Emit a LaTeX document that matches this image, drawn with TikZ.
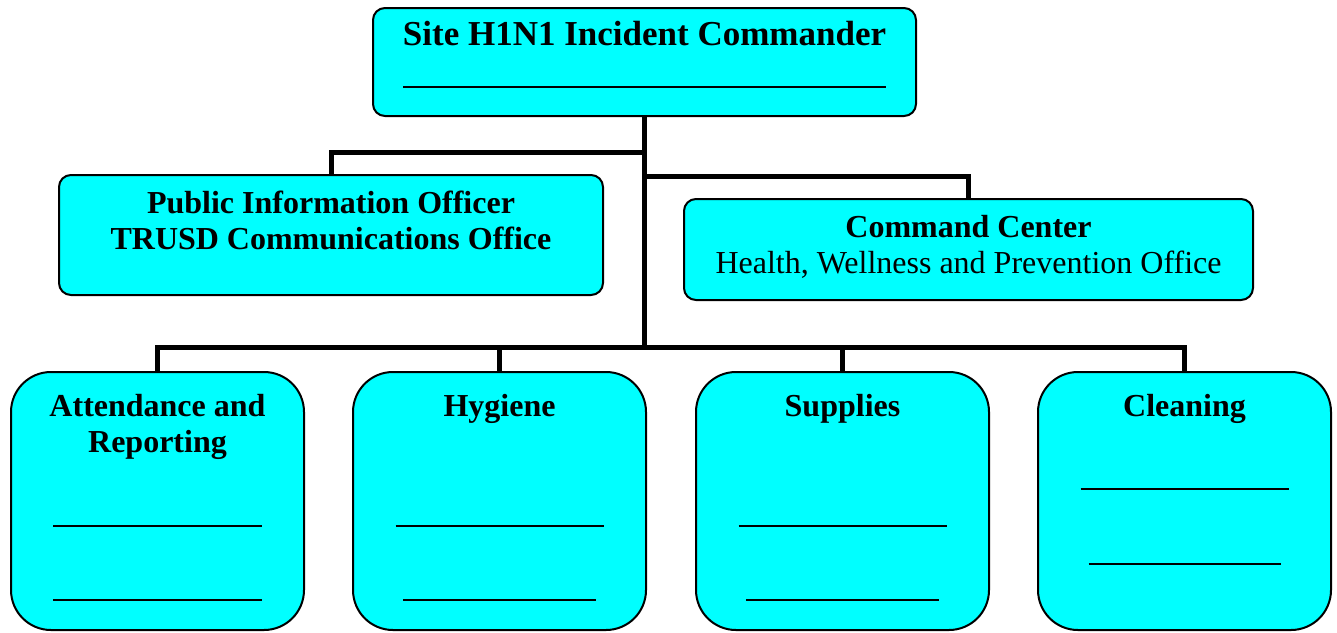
\documentclass[tikz,border=0pt]{standalone}
\usepackage{fontspec}
\setmainfont{Liberation Serif}
\usetikzlibrary{positioning,calc}

\definecolor{boxcyan}{HTML}{00FFFF}

\tikzset{
  box/.style  = {draw, line width=1pt, fill=boxcyan, rounded corners=6pt,
                 inner sep=0pt},
  cell/.style = {box, rounded corners=20pt, minimum width=146.5pt,
                 minimum height=129pt},
  wire/.style = {line width=2.5pt},
  head/.style = {font=\bfseries\fontsize{16}{18}\selectfont, align=center,
                 inner sep=0pt, anchor=north},
  blank/.style= {draw=none, inner sep=0pt}
}
\newcommand{\fillin}[1]{\rule{#1}{0.8pt}}

\begin{document}
\begin{tikzpicture}[x=0.5pt, y=-0.5pt]
  \useasboundingbox (0,0) rectangle (1337,632);

  % top box
  \node [box, minimum width=271.5pt, minimum height=54pt] (ic) at (644.5,62) {};
  \node [head, font=\bfseries\fontsize{17.5}{20}\selectfont] (ict)
    at ($(ic.north)+(0,14)$) {Site H1N1 Incident Commander};
  \node [blank] (icl) at ($(ic.north)+(0,80)$) {\fillin{241.5pt}};

  % second row
  \node [box, minimum width=272pt, minimum height=60pt] (pio) at (331,235) {};
  \node [head] (piot) at ($(pio.north)+(0,17)$)
    {Public Information Officer\\TRUSD Communications Office};

  \node [box, minimum width=284.5pt, minimum height=50.5pt] (cmd) at (968.5,249.5) {};
  \node [head] (cmdt) at ($(cmd.north)+(0,17)$)
    {Command Center\\\mdseries Health, Wellness and Prevention Office};

  % bottom row
  \node [cell] (att) at (157.5,501) {};
  \node [cell] (hyg) at (499.5,501) {};
  \node [cell] (sup) at (842.5,501) {};
  \node [cell] (cln) at (1184.5,501) {};

  \node [head] (attt) at ($(att.north)+(0,23)$) {Attendance and\\Reporting};
  \node [head] (hygt) at ($(hyg.north)+(0,23)$) {Hygiene};
  \node [head] (supt) at ($(sup.north)+(0,23)$) {Supplies};
  \node [head] (clnt) at ($(cln.north)+(0,23)$) {Cleaning};

  \foreach \b/\wa/\wb in {att/104.5pt/104.5pt, hyg/104pt/96.5pt, sup/104pt/96.5pt}{
    \node [blank] (\b l1) at ($(\b.north)+(0,155)$) {\fillin{\wa}};
    \node [blank] (\b l2) at ($(\b.north)+(0,229)$) {\fillin{\wb}};
  }
  \node [blank] (clnl1) at ($(cln.north)+(0,118)$) {\fillin{104pt}};
  \node [blank] (clnl2) at ($(cln.north)+(0,193)$) {\fillin{96pt}};

  % connectors
  \coordinate (bus) at (0,347);
  \draw [wire] (ic.south) -- (ic.south |- bus);
  \draw [wire] (pio.north) |- ($(ic.south)+(0,35)$);
  \draw [wire] (cmd.north) |- ($(ic.south)+(0,59)$);
  \draw [wire] (att.north) |- (cln.north |- bus) -- (cln.north);
  \foreach \b in {hyg, sup}
    \draw [wire] (\b.north) -- (\b.north |- bus);

\end{tikzpicture}
\end{document}
